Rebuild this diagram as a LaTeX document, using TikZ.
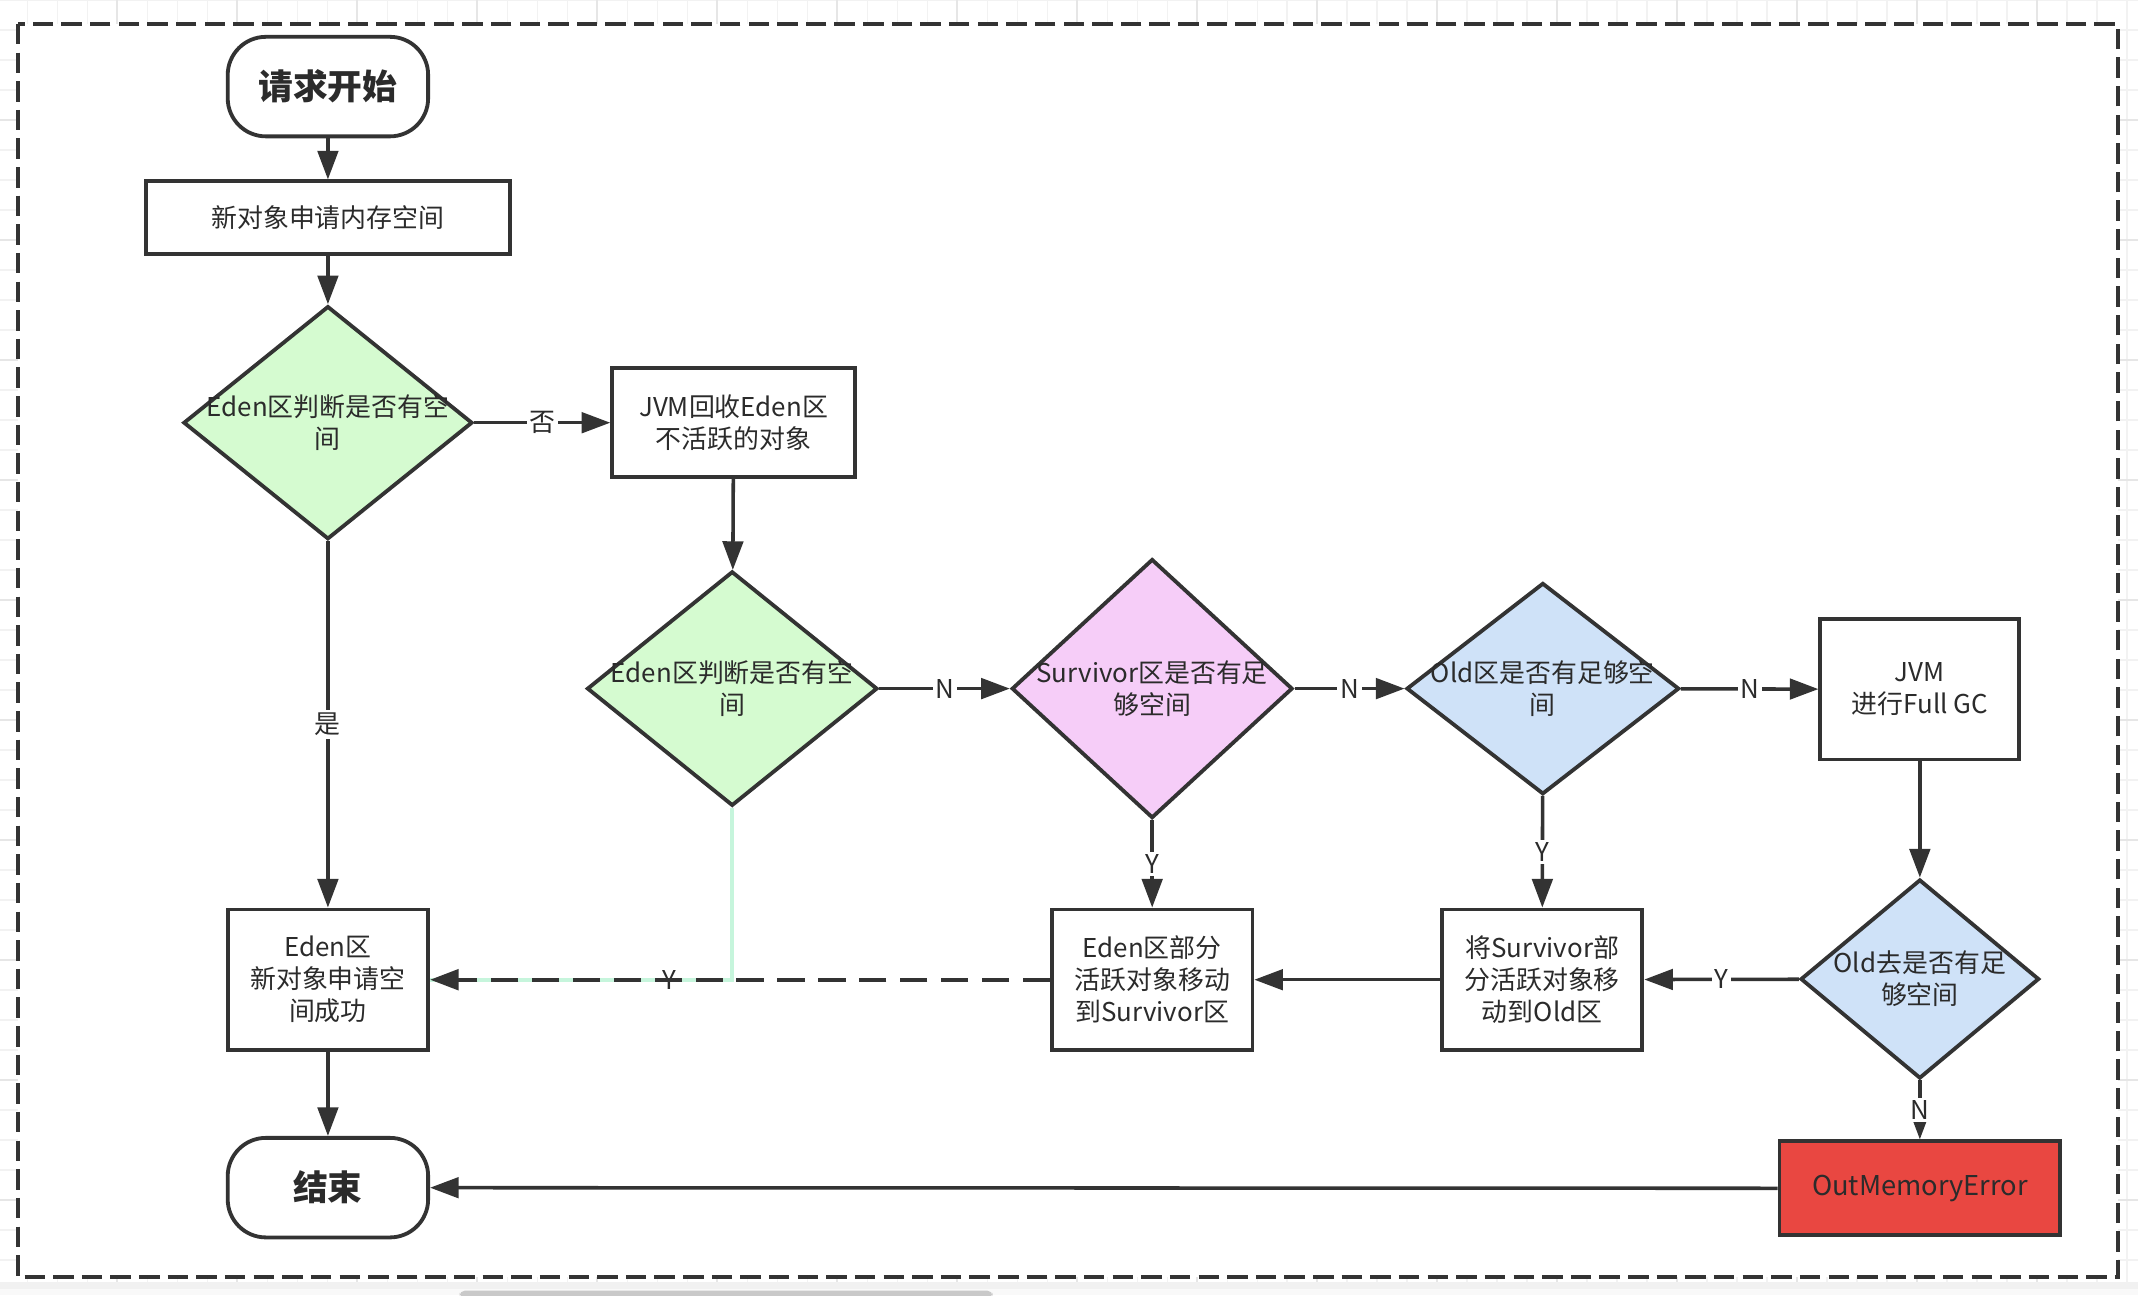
\documentclass[tikz,border=0pt]{standalone}
\usepackage{fontspec}
\setmainfont{Noto Sans CJK SC}
\usetikzlibrary{shapes.geometric,arrows.meta}
\definecolor{lc}{HTML}{333333}
\definecolor{tc}{HTML}{2B2B2B}
\definecolor{gfill}{HTML}{D5FBD0}
\definecolor{pfill}{HTML}{F6CDF8}
\definecolor{bfill}{HTML}{CFE2F8}
\definecolor{rfill}{HTML}{E94741}
\definecolor{mint}{HTML}{C6F5DC}
\definecolor{gridminor}{HTML}{F2F2F2}
\definecolor{gridmajor}{HTML}{E6E6E6}
\definecolor{strip}{HTML}{F1F1F1}
\definecolor{scroll}{HTML}{C9C9C9}
\newcommand{\dfont}{\fontsize{9.5}{11.75}\selectfont}
\tikzset{
  base/.style={draw=lc, line width=1.4pt, text=tc, font=\dfont, align=center, inner sep=0pt},
  term/.style={base, rectangle, rounded corners=14pt, minimum width=73.5pt, minimum height=36.5pt,
               font=\fontsize{12.75}{15}\selectfont\bfseries},
  proc/.style={base, rectangle},
  dec/.style={base, diamond, aspect=1},
  arr/.style={draw=lc, line width=1.3pt, -{Triangle[length=10.5pt,width=7.5pt]}},
  dasharr/.style={arr, line width=1.5pt, dash pattern=on 10pt off 5pt},
  mintline/.style={draw=mint, line width=1.4pt},
  lbl/.style={fill=white, inner sep=1pt, text=tc, font=\dfont},
  lblnf/.style={inner sep=1pt, text=tc, font=\dfont},
  frame/.style={draw=lc, line width=1.5pt, dash pattern=on 7.5pt off 3pt}
}
\begin{document}
\begin{tikzpicture}[x=0.5pt,y=-0.5pt]
\useasboundingbox (0,0) rectangle (1568,950);
% background grid outside the frame
\fill[white] (0,0) rectangle (1568,950);
\foreach \gx in {20,42,...,1568} \draw[gridminor, line width=0.5pt] (\gx,0) -- (\gx,950);
\foreach \gy in {0,22,...,950} \draw[gridminor, line width=0.5pt] (0,\gy) -- (1568,\gy);
\foreach \gx in {86,174,...,1568} \draw[gridmajor, line width=0.6pt] (\gx,0) -- (\gx,950);
\foreach \gy in {88,176,...,950} \draw[gridmajor, line width=0.6pt] (0,\gy) -- (1568,\gy);
\fill[white] (13,17.5) rectangle (1553.5,936.5);
\fill[strip] (0,940) rectangle (1568,950);
\fill[white!60!strip] (0,945) rectangle (1568,950);
\fill[scroll, rounded corners=2pt] (337,946.5) rectangle (728,952);
% frame
\draw[frame] (13,17.5) rectangle (1553.5,936.5);

% nodes
\node[term] (start) at (240.5,63.5) {请求开始};
\node[proc, minimum width=133.5pt, minimum height=26.5pt] (b1) at (240.5,159.5) {新对象申请内存空间};
\node[dec, fill=gfill, minimum width=106pt, minimum height=85.5pt,
      label={[align=center, text=tc, font=\dfont]center:Eden区判断是否有空\\间}] (d1) at (240.5,310) {};
\node[proc, minimum width=89pt, minimum height=40pt] (jvm) at (538,310) {JVM回收Eden区\\不活跃的对象};
\node[dec, fill=gfill, minimum width=106.5pt, minimum height=86pt,
      label={[align=center, text=tc, font=\dfont]center:Eden区判断是否有空\\间}] (d2) at (537,505) {};
\node[dec, fill=pfill, minimum width=103pt, minimum height=95pt,
      label={[align=center, text=tc, font=\dfont]center:Survivor区是否有足\\够空间}] (d3) at (845,505) {};
\node[dec, fill=bfill, minimum width=100pt, minimum height=77.5pt,
      label={[align=center, text=tc, font=\dfont]center:Old区是否有足够空\\间}] (d4) at (1131.5,505) {};
\node[proc, minimum width=73pt, minimum height=51.5pt] (gc) at (1408,505.5) {JVM\\进行Full GC};
\node[dec, fill=bfill, minimum width=87.5pt, minimum height=73pt,
      label={[align=center, text=tc, font=\dfont]center:Old去是否有足\\够空间}] (d5) at (1408,718) {};
\node[proc, minimum width=73.5pt, minimum height=51.5pt] (mv2) at (1131,718.5) {将Survivor部\\分活跃对象移\\动到Old区};
\node[proc, minimum width=73.5pt, minimum height=51.5pt] (mv1) at (845,718.5) {Eden区部分\\活跃对象移动\\到Survivor区};
\node[proc, minimum width=73.5pt, minimum height=51.5pt] (ok) at (240.5,718.5) {Eden区\\新对象申请空\\间成功};
\node[term] (end) at (240.5,871) {结束};
\node[proc, fill=rfill, minimum width=103pt, minimum height=34.5pt,
      font=\fontsize{10}{12}\selectfont] (oom) at (1408,871.5) {OutMemoryError};

% connectors
\draw[arr] (start) -- (b1);
\draw[arr] (b1) -- (d1);
\draw[arr] (d1) -- node[lbl]{否} (jvm);
\draw[arr] (d1) -- node[lbl]{是} (ok);
\draw[arr] (jvm) -- (d2);
\draw[arr] (d2) -- node[lbl]{N} (d3);
\draw[arr] (d3) -- node[lbl]{N} (d4);
\draw[arr] (d4) -- node[lbl]{N} (gc);
\draw[arr] (d3) -- node[lbl]{Y} (mv1);
\draw[arr] (d4) -- node[lbl]{Y} (mv2);
\draw[arr] (gc) -- (d5);
\draw[arr] (d5) -- node[lbl]{Y} (mv2);
\draw[arr] (mv2) -- (mv1);
\draw[mintline] (d2.south) |- node[lblnf, pos=0.604]{Y} (ok.east);
\draw[dasharr] (mv1) -- (ok);
\draw[arr] (ok) -- (end);
\draw[arr] (d5) -- node[lbl]{N} (oom);
\draw[arr] (oom) -- (end);
\end{tikzpicture}
\end{document}
